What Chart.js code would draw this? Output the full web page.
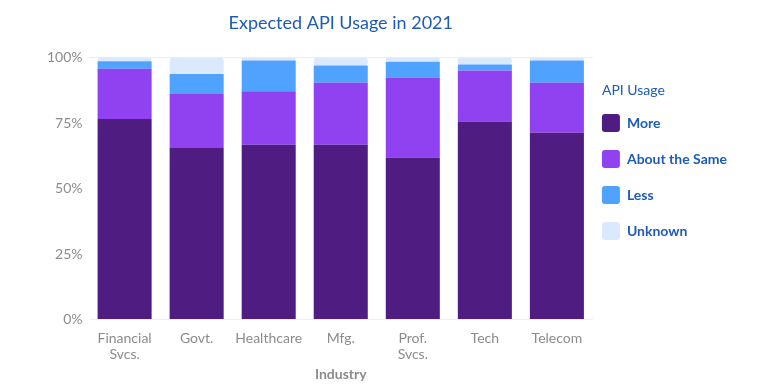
<!DOCTYPE html>
<html>
<head>
<meta charset="utf-8">
<script src="https://cdn.jsdelivr.net/npm/chart.js@4/dist/chart.umd.min.js"></script>
<style>
  html, body { margin: 0; padding: 0; background: #fff; }
  #wrap { width: 759px; height: 390px; }
</style>
</head>
<body>
<div id="wrap"><canvas id="chart" width="759" height="390"></canvas></div>
<script>
const industries = [['Financial', 'Svcs.'], 'Govt.', 'Healthcare', 'Mfg.', ['Prof.', 'Svcs.'], 'Tech', 'Telecom'];
const more = [76.6, 65.5, 66.7, 66.7, 61.9, 75.6, 71.3];
const aboutSame = [19.1, 20.6, 20.5, 23.7, 30.5, 19.5, 19.1];
const less = [2.9, 7.6, 11.7, 6.6, 6.0, 2.3, 8.5];
const unknown = [1.4, 6.3, 1.1, 3.0, 1.6, 2.6, 1.1];
const yTicks = [0, 25, 50, 75, 100];
const legendTitle = 'API Usage';

const blue = '#1d5bb5';
const grey = '#8c8c8c';

Chart.defaults.font.family = 'Lato, sans-serif';

const bar = (label, data, color) => ({
  label,
  data,
  backgroundColor: color,
  borderRadius: 3,
  borderSkipped: false,
  barPercentage: 0.75,
  categoryPercentage: 1
});

// place the legend column and draw its heading, left-aligned with the boxes
const legendSpot = {
  id: 'legendSpot',
  afterLayout(chart) {
    const lg = chart.legend;
    lg.left = chart.chartArea.right - 9;
    lg.top = 96;
  },
  afterDraw(chart) {
    const ctx = chart.ctx;
    ctx.save();
    ctx.font = '14px Lato, sans-serif';
    ctx.fillStyle = blue;
    ctx.textBaseline = 'middle';
    ctx.fillText(legendTitle, chart.legend.left + 18, 90);
    ctx.restore();
  }
};

new Chart(document.getElementById('chart'), {
  type: 'bar',
  data: {
    labels: industries,
    datasets: [
      bar('More', more, '#4f1c82'),
      bar('About the Same', aboutSame, '#9142f0'),
      bar('Less', less, '#50a2ff'),
      bar('Unknown', unknown, '#dbe9fe')
    ]
  },
  plugins: [legendSpot],
  options: {
    responsive: false,
    animation: false,
    layout: { padding: { left: 41, right: 13, bottom: 3 } },
    scales: {
      x: {
        stacked: true,
        grid: { display: false },
        border: { display: false },
        ticks: { color: grey, font: { size: 14 }, padding: 2, maxRotation: 0 },
        title: { display: true, text: 'Industry', color: grey, font: { size: 14, weight: 'bold' }, padding: { top: 1 } }
      },
      y: {
        stacked: true,
        min: 0,
        max: 100,
        afterBuildTicks: axis => { axis.ticks = yTicks.map(v => ({ value: v })); },
        border: { display: false },
        grid: {
          drawTicks: false,
          color: ctx => (ctx.tick && (ctx.tick.value === 0 || ctx.tick.value === 100)) ? '#eeeeee' : 'rgba(0,0,0,0)'
        },
        ticks: { color: grey, font: { size: 14 }, padding: 6, callback: v => v + '%' }
      }
    },
    plugins: {
      title: {
        display: true,
        text: 'Expected API Usage in 2021',
        color: blue,
        fullSize: false,
        font: { size: 18, weight: 'normal' },
        padding: { top: 12, bottom: 24 }
      },
      legend: {
        position: 'right',
        align: 'start',
        fullSize: false,
        labels: {
          color: blue,
          font: { size: 14, weight: 'bold' },
          boxWidth: 18,
          boxHeight: 18,
          padding: 18,
          useBorderRadius: true,
          borderRadius: 3
        }
      },
      tooltip: { enabled: false }
    }
  }
});
</script>
</body>
</html>
